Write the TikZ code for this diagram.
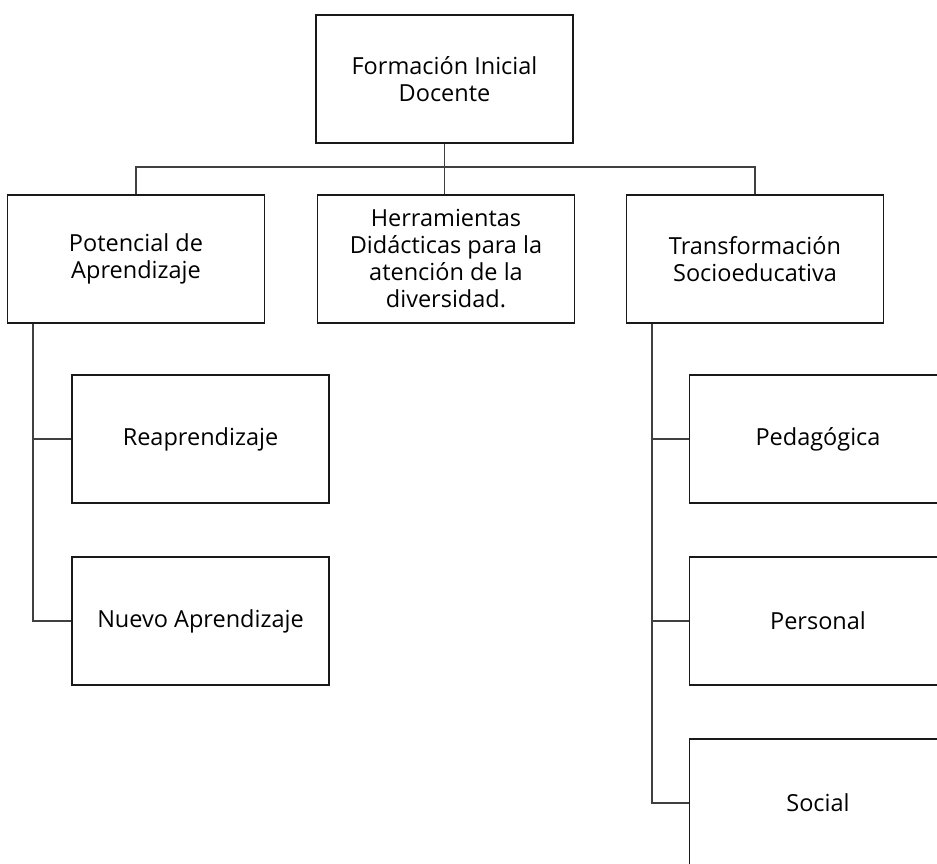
\documentclass[tikz,border=0pt]{standalone}
\usepackage{fontspec}
\setmainfont{Open Sans}
\begin{document}
\begin{tikzpicture}[x=1pt,y=-1pt,
  box/.style={draw=black!90, line width=1.5pt, rectangle, minimum width=257pt, minimum height=128pt,
    align=center, font=\fontsize{23.5}{27}\selectfont, inner sep=0pt, text=black},
  link/.style={line width=1.5pt, draw=black!75}]
\useasboundingbox (0,0) rectangle (937,863);
\clip (0,0) rectangle (937,863);
\node[box] (top) at (444.5,79) {Formación Inicial\\Docente};
\node[box] (pot) at (136,259) {Potencial de\\Aprendizaje};
\node[box] (her) at (446,259) {Herramientas\\Didácticas para la\\atención de la\\diversidad.};
\node[box] (tra) at (755,259) {Transformación\\Socioeducativa};
\node[box] (rea) at (200.5,439) {Reaprendizaje};
\node[box] (nue) at (200.5,621) {Nuevo Aprendizaje};
\node[box] (ped) at (818,439) {Pedagógica};
\node[box] (per) at (818,621) {Personal};
\node[box] (soc) at (818,803) {Social};
\coordinate (bar) at (0,167);
\coordinate (lsp) at (33,0);
\coordinate (rsp) at (652,0);
\draw[link] (top.south) -- (top.south |- her.north);
\draw[link] (pot.north) -- (pot.north |- bar) -- (tra.north |- bar) -- (tra.north);
\draw[link] (lsp |- pot.south) |- (rea.west);
\draw[link] (lsp |- pot.south) |- (nue.west);
\draw[link] (rsp |- tra.south) |- (ped.west);
\draw[link] (rsp |- tra.south) |- (per.west);
\draw[link] (rsp |- tra.south) |- (soc.west);
\end{tikzpicture}
\end{document}
